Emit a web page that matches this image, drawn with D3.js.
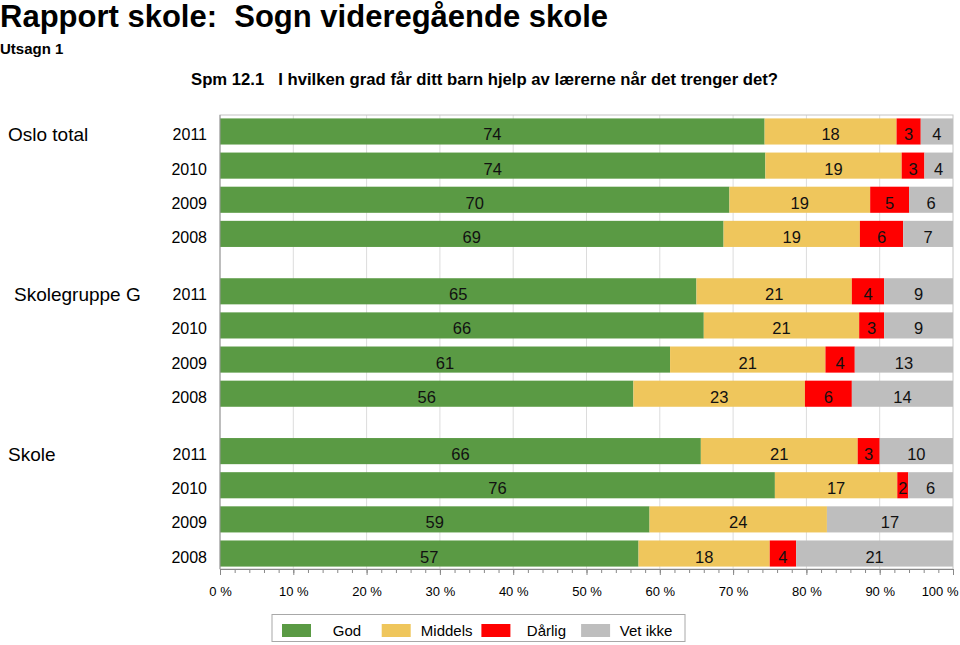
<!DOCTYPE html>
<html>
<head>
<meta charset="utf-8">
<script src="https://cdn.jsdelivr.net/npm/d3@7"></script>
<style>
  body { margin: 0; background: #fff; }
  svg { display: block; font-family: "Liberation Sans", Arial, sans-serif; }
</style>
</head>
<body>
<svg width="960" height="645"></svg>
<script>
const groups = ["Oslo total", "Skolegruppe G", "Skole"];
const years = ["2011", "2010", "2009", "2008"];
const categories = ["God", "Middels", "Dårlig", "Vet ikke"];
const colors = ["#5a9a44", "#efc65c", "#ff0000", "#bebebe"];

// one value per row, group by group, years 2011 -> 2008
const god     = [74.3, 74.4, 69.5, 68.7, 65.0, 66.0, 61.4, 56.4, 65.6, 75.7, 58.6, 57.1];
const middels = [18.0, 18.6, 19.2, 18.6, 21.2, 21.2, 21.2, 23.4, 21.4, 16.7, 24.2, 17.9];
const darlig  = [3.3, 3.1, 5.3, 5.9, 4.4, 3.4, 4.0, 6.4, 3.0, 1.5, 0, 3.6];
const vetIkke = [4.4, 3.9, 6.0, 6.8, 9.4, 9.4, 13.4, 13.8, 10.0, 6.1, 17.2, 21.4];

const xTicks = [0, 10, 20, 30, 40, 50, 60, 70, 80, 90, 100];

const rows = [];
groups.forEach((g, gi) => {
    years.forEach((yr, yi) => {
        const i = gi * years.length + yi;
        rows.push({
            group: g, year: yr,
            "God": god[i], "Middels": middels[i], "Dårlig": darlig[i], "Vet ikke": vetIkke[i]
        });
    });
});

const svg = d3.select("svg");
const plotLeft = 220, plotRight = 953, plotTop = 115, plotBottom = 569;

const x = d3.scaleLinear().domain([0, 100]).range([plotLeft, plotRight]);
const yGroup = d3.scaleBand().domain(groups).range([plotTop, plotBottom + 1]).paddingInner(0.153);
const yYear = d3.scaleBand().domain(years).range([0, yGroup.bandwidth()])
    .paddingInner(0.235).paddingOuter(0.1);
const color = d3.scaleOrdinal().domain(categories).range(colors);

const rowY = d => yGroup(d.group) + yYear(d.year);

// titles
svg.append("text").attr("x", 0).attr("y", 27)
    .attr("font-size", 31).attr("font-weight", "bold")
    .attr("xml:space", "preserve")
    .text("Rapport skole:  Sogn videregående skole");
svg.append("text").attr("x", 0).attr("y", 54)
    .attr("font-size", 15).attr("font-weight", "bold")
    .text("Utsagn 1");
svg.append("text").attr("x", 191).attr("y", 85)
    .attr("font-size", 16.7).attr("font-weight", "bold")
    .attr("xml:space", "preserve")
    .text("Spm 12.1   I hvilken grad får ditt barn hjelp av lærerne når det trenger det?");

// grid + frame
svg.append("g").selectAll("line")
    .data(xTicks.slice(1, -1))
    .join("line")
    .attr("x1", d => x(d)).attr("x2", d => x(d))
    .attr("y1", plotTop).attr("y2", plotBottom)
    .attr("stroke", "#dcdcdc");

svg.append("rect")
    .attr("x", plotLeft).attr("y", plotTop)
    .attr("width", plotRight - plotLeft).attr("height", plotBottom - plotTop)
    .attr("fill", "none").attr("stroke", "#c4c4c4");

// bars
const series = d3.stack().keys(categories)(rows);

const layer = svg.append("g").selectAll("g")
    .data(series)
    .join("g")
    .attr("fill", s => color(s.key));

layer.selectAll("rect")
    .data(s => s)
    .join("rect")
    .attr("x", d => x(d[0]))
    .attr("y", d => rowY(d.data))
    .attr("width", d => x(d[1]) - x(d[0]))
    .attr("height", yYear.bandwidth());

layer.selectAll("text")
    .data(s => s.filter(d => d[1] - d[0] > 0))
    .join("text")
    .attr("x", d => (x(d[0]) + x(d[1])) / 2)
    .attr("y", d => rowY(d.data) + yYear.bandwidth() / 2 + 9)
    .attr("text-anchor", "middle")
    .attr("font-size", 16.5)
    .attr("fill", "#111")
    .text(d => Math.round(d[1] - d[0]));

// left axis line
svg.append("line")
    .attr("x1", plotLeft).attr("x2", plotLeft).attr("y1", plotTop).attr("y2", plotBottom)
    .attr("stroke", "#999");

// row labels
svg.append("g").selectAll("text")
    .data(rows)
    .join("text")
    .attr("x", 207)
    .attr("y", d => rowY(d) + yYear.bandwidth() / 2 + 9)
    .attr("text-anchor", "end")
    .attr("font-size", 16)
    .text(d => d.year);

svg.append("g").selectAll("text")
    .data(groups)
    .join("text")
    .attr("x", (d, i) => i === 1 ? 14 : 8)
    .attr("y", d => yGroup(d) + yYear(years[0]) + yYear.bandwidth() / 2 + 10)
    .attr("font-size", 19)
    .text(d => d);

// x axis
const minor = svg.append("g")
    .attr("transform", `translate(0,${plotBottom})`)
    .call(d3.axisBottom(x).tickValues(d3.range(0, 101, 2)).tickSize(4).tickFormat(""));
minor.select(".domain").remove();
minor.selectAll("line").attr("stroke", "#888");

const major = svg.append("g")
    .attr("transform", `translate(0,${plotBottom})`)
    .call(d3.axisBottom(x).tickValues(xTicks).tickSize(6).tickPadding(12)
        .tickFormat(d => d + " %"));
major.select(".domain").attr("stroke", "#888");
major.selectAll("line").attr("stroke", "#888");
major.selectAll("text")
    .attr("font-size", 13)
    .attr("font-family", "'Liberation Sans', Arial, sans-serif")
    .attr("fill", "#000");
major.selectAll(".tick").filter(d => d === 100).select("text")
    .attr("text-anchor", "end").attr("dx", 5);

// legend
const legend = svg.append("g");
legend.append("rect")
    .attr("x", 272).attr("y", 614.5).attr("width", 413).attr("height", 27)
    .attr("fill", "#fff").attr("stroke", "#a8a8a8");

const item = legend.selectAll("g.item")
    .data(categories)
    .join("g")
    .attr("class", "item")
    .attr("transform", (d, i) => `translate(${282 + i * 99.7},0)`);
item.append("rect")
    .attr("x", 0).attr("y", 624).attr("width", 29).attr("height", 13)
    .attr("fill", d => color(d));
item.append("text")
    .attr("x", 65).attr("y", 636)
    .attr("text-anchor", "middle")
    .attr("font-size", 15)
    .text(d => d);
</script>
</body>
</html>
